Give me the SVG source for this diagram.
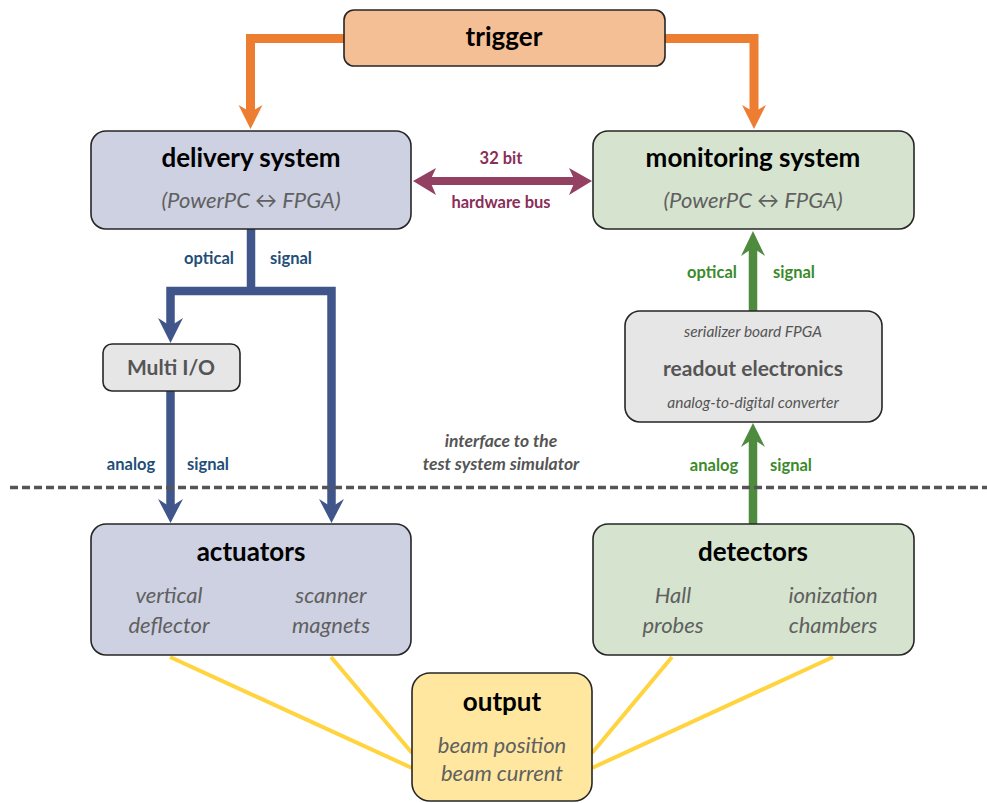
<svg xmlns="http://www.w3.org/2000/svg" width="987" height="803" viewBox="0 0 987 803">
<style>
text{font-family:Lato,"Liberation Sans",sans-serif;text-anchor:middle}
.box{stroke:#262626;stroke-width:1.6}
.title{font-size:26px;font-weight:bold;fill:#000}
.sub{font-size:22px;font-style:italic;fill:#606060}
.small{font-size:15.5px;font-style:italic;fill:#555}
.mid{font-size:21px;font-weight:bold;fill:#555}
.lbl{font-size:16.5px;font-weight:bold}
.blue{fill:#1F4E79}.green{fill:#3B8A2C}.maroon{fill:#8A2E58}
.iface{font-size:17.5px;font-weight:bold;font-style:italic;fill:#555}
.lavender{fill:#CDD1E2}.mint{fill:#D6E4CF}.grey{fill:#E6E6E6}
.cOr{stroke:#ED7D31;fill:none;stroke-width:9}
.cBl{stroke:#40568A;fill:none;stroke-width:8.5}
.cGr{stroke:#4F8B3F;fill:none;stroke-width:8.5}
.cMa{stroke:#934063;fill:none;stroke-width:8}
.cYe{stroke:#FFD43F;fill:none;stroke-width:4}
</style>
<g id="connectors">
  <path class="cOr" d="M 344 38.5 H 250.5 V 112"/>
  <polygon fill="#ED7D31" points="250.5,129 262.5,105 250.5,112 238.5,105"/>
  <path class="cOr" d="M 665 38.5 H 754 V 112"/>
  <polygon fill="#ED7D31" points="754,129 766,105 754,112 742,105"/>
  <path class="cMa" d="M 428 181 H 576"/>
  <polygon fill="#934063" points="413,181 436,168 430,181 436,195"/>
  <polygon fill="#934063" points="592,181 569,168 575,181 569,195"/>
  <path class="cBl" d="M 251 229 V 291"/>
  <path class="cBl" d="M 170.5 326 V 291 H 331.5 V 507" stroke-linejoin="miter"/>
  <polygon fill="#40568A" points="170.5,343 183,318 170.5,326 158,318"/>
  <polygon fill="#40568A" points="331.5,523 344,499 331.5,507 319,499"/>
  <path class="cBl" d="M 170.5 391 V 507"/>
  <polygon fill="#40568A" points="170.5,523 183,499 170.5,507 158,499"/>
  <path class="cGr" d="M 753 311 V 247"/>
  <polygon fill="#4F8B3F" points="753,231 765,256 753,248 741,256"/>
  <path class="cGr" d="M 753 524 V 439"/>
  <polygon fill="#4F8B3F" points="753,423 765,447 753,439 741,447"/>
  <path class="cYe" d="M 170 657 L 412 768 M 331 657 L 412 753 M 672 657 L 592 753 M 833 657 L 592 768"/>
  <path d="M 10 487.5 H 987" stroke="#555" stroke-width="3.5" stroke-dasharray="8,4" fill="none"/>
</g>
<g id="labels">
  <text class="lbl maroon" x="501" y="164">32 bit</text>
  <text class="lbl maroon" x="501" y="208">hardware bus</text>
  <text class="lbl blue" x="209" y="264">optical</text>
  <text class="lbl blue" x="291" y="264">signal</text>
  <text class="lbl blue" x="131" y="470">analog</text>
  <text class="lbl blue" x="208" y="470">signal</text>
  <text class="lbl green" x="712" y="278">optical</text>
  <text class="lbl green" x="794" y="278">signal</text>
  <text class="lbl green" x="714" y="471">analog</text>
  <text class="lbl green" x="791" y="471">signal</text>
  <text class="iface" x="501" y="447">interface to the</text>
  <text class="iface" x="501" y="470">test system simulator</text>
</g>
<g id="trigger">
  <rect class="box" x="344" y="10" width="321" height="56" rx="10" fill="#F5BF95"/>
  <text class="title" x="504" y="46">trigger</text>
</g>
<g id="delivery">
  <rect class="box lavender" x="91" y="131" width="320" height="98" rx="15"/>
  <text class="title" x="251" y="167">delivery system</text>
  <text class="sub" x="251" y="208">(PowerPC ↔ FPGA)</text>
</g>
<g id="monitoring">
  <rect class="box mint" x="593" y="131" width="321" height="98" rx="15"/>
  <text class="title" x="753" y="167">monitoring system</text>
  <text class="sub" x="753" y="208">(PowerPC ↔ FPGA)</text>
</g>
<g id="multiio">
  <rect class="box grey" x="103" y="344" width="137" height="47" rx="9"/>
  <text class="mid" x="171" y="375">Multi I/O</text>
</g>
<g id="readout">
  <rect class="box grey" x="625" y="311" width="257" height="111" rx="15"/>
  <text class="small" x="753" y="337">serializer board FPGA</text>
  <text class="mid" x="753" y="376">readout electronics</text>
  <text class="small" x="753" y="408">analog-to-digital converter</text>
</g>
<g id="actuators">
  <rect class="box lavender" x="91" y="524" width="320" height="131" rx="15"/>
  <text class="title" x="251" y="561">actuators</text>
  <text class="sub" x="169" y="603">vertical</text>
  <text class="sub" x="169" y="633">deflector</text>
  <text class="sub" x="331" y="603">scanner</text>
  <text class="sub" x="331" y="633">magnets</text>
</g>
<g id="detectors">
  <rect class="box mint" x="593" y="524" width="321" height="131" rx="15"/>
  <text class="title" x="753" y="561">detectors</text>
  <text class="sub" x="673" y="603">Hall</text>
  <text class="sub" x="673" y="633">probes</text>
  <text class="sub" x="833" y="603">ionization</text>
  <text class="sub" x="833" y="633">chambers</text>
</g>
<g id="output">
  <rect class="box" x="412" y="673" width="180" height="128" rx="18" fill="#FFE7A0"/>
  <text class="title" x="502" y="711">output</text>
  <text class="sub" x="502" y="753">beam position</text>
  <text class="sub" x="502" y="781">beam current</text>
</g>
</svg>
